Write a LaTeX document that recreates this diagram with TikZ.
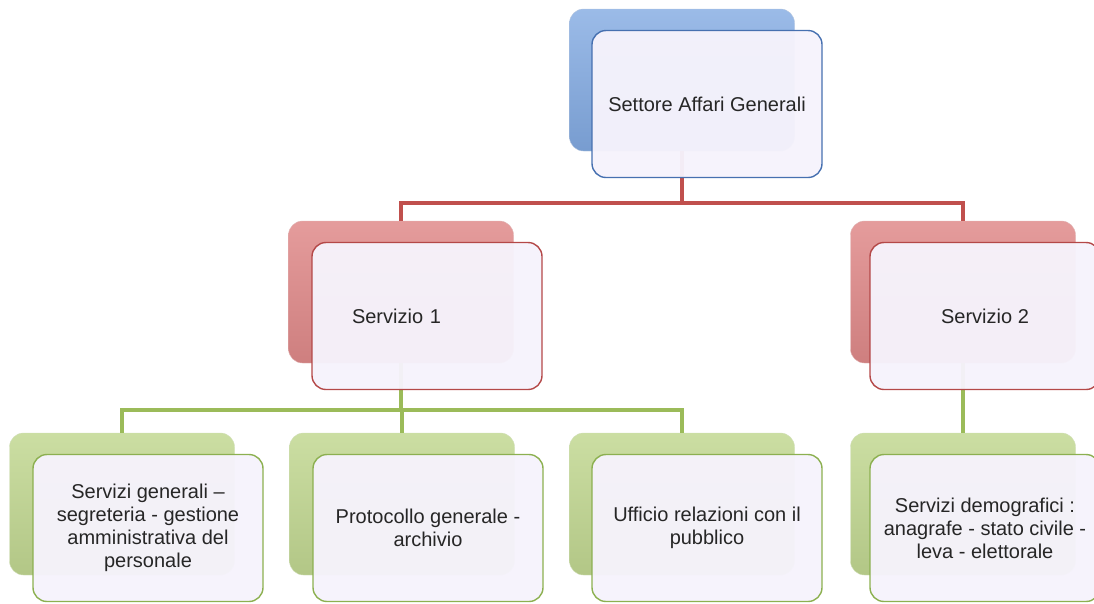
\documentclass[tikz,border=0pt]{standalone}
\usepackage{fontspec}
\setmainfont{Liberation Sans}
\definecolor{blueback}{RGB}{130,170,226}
\definecolor{redback}{RGB}{224,138,138}
\definecolor{greenback}{RGB}{194,216,146}
\definecolor{blueedge}{RGB}{70,112,176}
\definecolor{rededge}{RGB}{180,72,72}
\definecolor{greenedge}{RGB}{140,176,80}
\definecolor{redline}{RGB}{192,80,77}
\definecolor{greenline}{RGB}{155,187,89}
\definecolor{frontfill}{RGB}{246,243,252}
\definecolor{textgray}{RGB}{38,38,38}

\begin{document}
\begin{tikzpicture}[x=1pt,y=-1pt,
    back/.style={rounded corners=14pt, minimum width=225pt, minimum height=142pt},
    backblue/.style={back, top color=blueback!80!white, bottom color=blueback!92!black, draw=blueedge!40},
    backred/.style={back, top color=redback!85!white, bottom color=redback!92!black, draw=rededge!40},
    backgreen/.style={back, top color=greenback!85!white, bottom color=greenback!92!black, draw=greenedge!40},
    front/.style={rounded corners=14pt, minimum width=230pt, minimum height=147pt,
      fill=frontfill, fill opacity=0.96, text opacity=1, line width=1.4pt, align=center,
      text=textgray, font=\fontsize{20}{23}\selectfont},
    off/.style={text width=150pt, align=left},
    link/.style={line width=4pt}]
    \useasboundingbox (0,0) rectangle (1094,603);
        \node[backblue] (topb) at (682,80) {};
        \node[backred] (s1b) at (401,292) {};
        \node[backred] (s2b) at (963,292) {};
        \node[backgreen] (g1b) at (122,504) {};
        \node[backgreen] (g2b) at (402,504) {};
        \node[backgreen] (g3b) at (682,504) {};
        \node[backgreen] (g4b) at (963,504) {};
        \coordinate (busr) at (682,203);
        \coordinate (busg) at (401,410);
        \draw[link, redline] (topb.south) -- (busr) -| (s1b.north);
        \draw[link, redline] (busr) -| (s2b.north);
        \draw[link, greenline] (s1b.south) -- (busg) -| (g1b.north);
        \draw[link, greenline] (busg) -| (g2b.north);
        \draw[link, greenline] (busg) -| (g3b.north);
        \draw[link, greenline] (s2b.south) -- (g4b.north);
        \node[front, draw=blueedge] (topf) at ([shift={(25,24)}]topb.center) {Settore Affari Generali};
        \node[front, draw=rededge, off] (s1f) at ([shift={(26,24)}]s1b.center) {Servizio 1};
        \node[front, draw=rededge] (s2f) at ([shift={(22,24)}]s2b.center) {Servizio 2};
        \node[front, draw=greenedge] (g1f) at ([shift={(26,24)}]g1b.center) {Servizi generali --\\segreteria - gestione\\amministrativa del\\personale};
        \node[front, draw=greenedge] (g2f) at ([shift={(26,24)}]g2b.center) {Protocollo generale -\\archivio};
        \node[front, draw=greenedge] (g3f) at ([shift={(25,24)}]g3b.center) {Ufficio relazioni con il\\pubblico};
        \node[front, draw=greenedge] (g4f) at ([shift={(22,24)}]g4b.center) {Servizi demografici :\\anagrafe - stato civile -\\leva - elettorale};
    \end{tikzpicture}
\end{document}
